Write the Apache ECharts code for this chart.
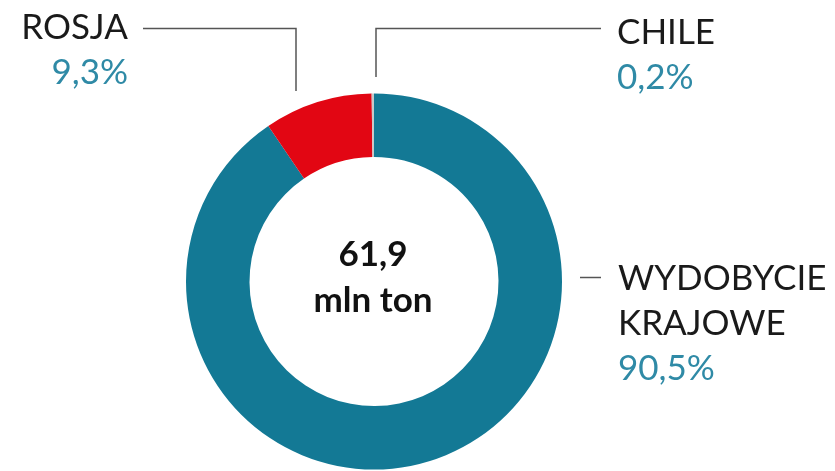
<!DOCTYPE html>
<html>
<head>
<meta charset="utf-8">
<script src="https://cdn.jsdelivr.net/npm/echarts@6/dist/echarts.min.js"></script>
<style>
html,body{margin:0;padding:0;background:#fff;}
#chart{width:835px;height:471px;}
</style>
</head>
<body>
<div id="chart"></div>
<script>
const categories = ['WYDOBYCIE\nKRAJOWE', 'ROSJA', 'CHILE'];
const values = [90.5, 9.3, 0.2];
const percentLabels = ['90,5%', '9,3%', '0,2%'];
const totalValue = '61,9';
const totalUnit = 'mln ton';

const sliceColors = ['#137995', '#e20613', '#c9c9c9'];
const FONT = 'Lato, "Open Sans", sans-serif';

const chart = echarts.init(document.getElementById('chart'), null, {renderer: 'canvas'});

// label placement (pixel positions of label blocks and leader lines)
const labelPlacement = [
  {x: 618, y: 256, align: 'left', line: [[580, 277.5], [590, 277.5], [601, 277.5]]},
  {x: 128, y: 5, align: 'right', line: [[296, 91], [296, 28.5], [143, 28.5]]},
  {x: 617, y: 10, align: 'left', line: [[376, 77], [376, 28.5], [601, 28.5]]}
];

chart.setOption({
  backgroundColor: '#ffffff',
  animation: false,
  title: {
    text: totalValue + '\n' + totalUnit,
    left: 368,
    top: 227,
    textAlign: 'center',
    textStyle: {fontFamily: FONT, fontWeight: 'bold', fontSize: 35, lineHeight: 46, color: '#111'}
  },
  series: [{
    type: 'pie',
    center: [374, 281.5],
    radius: [124.5, 188],
    startAngle: 90,
    clockwise: true,
    avoidLabelOverlap: false,
    silent: true,
    data: categories.map((c, i) => ({
      name: c,
      value: values[i],
      itemStyle: {color: sliceColors[i]}
    })),
    label: {
      show: true,
      position: 'outside',
      formatter: p => '{n|' + p.name.split('\n').join('}\n{n|') + '}\n{p|' + percentLabels[p.dataIndex] + '}',
      rich: {
        n: {fontFamily: FONT, fontSize: 35, lineHeight: 45, color: '#1a1a1a'},
        p: {fontFamily: FONT, fontSize: 35, lineHeight: 45, color: '#2f8aa6'}
      }
    },
    labelLine: {show: true, lineStyle: {color: '#555', width: 1.5}},
    labelLayout: function (params) {
      const pl = labelPlacement[params.dataIndex];
      return {
        x: pl.x,
        y: pl.y,
        align: pl.align,
        verticalAlign: 'top',
        labelLinePoints: pl.line
      };
    }
  }]
});
</script>
</body>
</html>
